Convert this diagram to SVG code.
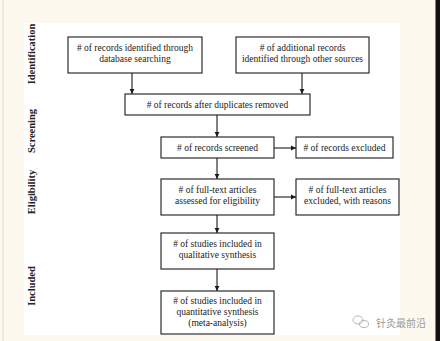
<svg xmlns="http://www.w3.org/2000/svg" width="440" height="341" viewBox="0 0 440 341">
<defs>
<style>
.box{fill:#fff;stroke:#1a1a1a;stroke-width:1.1}
.t{font-family:"Liberation Serif","Times New Roman",serif;font-size:9.5px;fill:#222;text-anchor:middle}
.ph{font-family:"Liberation Serif","Times New Roman",serif;font-size:10.5px;font-weight:bold;fill:#222;text-anchor:middle}
.c{stroke:#1a1a1a;stroke-width:1.1;fill:none;marker-end:url(#ah)}
.wm{font-family:"Noto Sans CJK SC",sans-serif;font-size:10px;fill:#9a9a9a}
</style>
<marker id="ah" markerWidth="6" markerHeight="6" refX="5" refY="3" orient="auto" markerUnits="userSpaceOnUse">
<path d="M0,0.6 L5,3 L0,5.4 Z" fill="#1a1a1a"/>
</marker>
</defs>
<rect x="0" y="0" width="440" height="341" fill="#fcf8ed"/>
<line x1="3" y1="0" x2="3" y2="341" stroke="#e6dccb" stroke-width="1"/>
<rect x="435.5" y="0" width="4.5" height="341" fill="#111"/>
<rect x="24" y="23" width="376" height="312" fill="#fff"/>

<g id="phases">
<text class="ph" transform="translate(35,54) rotate(-90)">Identification</text>
<text class="ph" transform="translate(35,131) rotate(-90)">Screening</text>
<text class="ph" transform="translate(35,192) rotate(-90)">Eligibility</text>
<text class="ph" transform="translate(35,286) rotate(-90)">Included</text>
</g>

<g id="connectors">
<line class="c" x1="132" y1="73" x2="132" y2="94"/>
<line class="c" x1="302" y1="73" x2="302" y2="94"/>
<line class="c" x1="217" y1="115" x2="217" y2="137"/>
<line class="c" x1="274" y1="148" x2="296" y2="148"/>
<line class="c" x1="217" y1="158" x2="217" y2="179"/>
<line class="c" x1="274" y1="197" x2="296" y2="197"/>
<line class="c" x1="217" y1="215" x2="217" y2="233"/>
<line class="c" x1="217" y1="269" x2="217" y2="291"/>
</g>

<g id="n1">
<rect class="box" x="68" y="37" width="134" height="36"/>
<text class="t" x="135" y="51"><tspan x="135"># of records identified through</tspan><tspan x="135" dy="11">database searching</tspan></text>
</g>
<g id="n2">
<rect class="box" x="236" y="37" width="133" height="36"/>
<text class="t" x="302.5" y="51"><tspan x="302.5"># of additional records</tspan><tspan x="302.5" dy="11">identified through other sources</tspan></text>
</g>
<g id="n3">
<rect class="box" x="125" y="94" width="185" height="21"/>
<text class="t" x="217.5" y="108"># of records after duplicates removed</text>
</g>
<g id="n4">
<rect class="box" x="161" y="137" width="113" height="21"/>
<text class="t" x="217.5" y="151"># of records screened</text>
</g>
<g id="n5">
<rect class="box" x="296" y="137" width="97" height="21"/>
<text class="t" x="344.5" y="151"># of records excluded</text>
</g>
<g id="n6">
<rect class="box" x="161" y="179" width="113" height="36"/>
<text class="t" x="217.5" y="193"><tspan x="217.5"># of full-text articles</tspan><tspan x="217.5" dy="11">assessed for eligibility</tspan></text>
</g>
<g id="n7">
<rect class="box" x="296" y="179" width="103" height="36"/>
<text class="t" x="347.5" y="193"><tspan x="347.5"># of full-text articles</tspan><tspan x="347.5" dy="11">excluded, with reasons</tspan></text>
</g>
<g id="n8">
<rect class="box" x="161" y="233" width="113" height="36"/>
<text class="t" x="217.5" y="247"><tspan x="217.5"># of studies included in</tspan><tspan x="217.5" dy="11">qualitative synthesis</tspan></text>
</g>
<g id="n9">
<rect class="box" x="161" y="291" width="113" height="43"/>
<text class="t" x="217.5" y="304"><tspan x="217.5"># of studies included in</tspan><tspan x="217.5" dy="11">quantitative synthesis</tspan><tspan x="217.5" dy="11">(meta-analysis)</tspan></text>
</g>

<g id="watermark">
<ellipse cx="358" cy="320" rx="5" ry="4" fill="none" stroke="#b5b5b5" stroke-width="1"/>
<ellipse cx="364" cy="324" rx="4.5" ry="3.5" fill="none" stroke="#b5b5b5" stroke-width="1"/>
<text class="wm" x="376" y="327">针灸最前沿</text>
</g>
</svg>
